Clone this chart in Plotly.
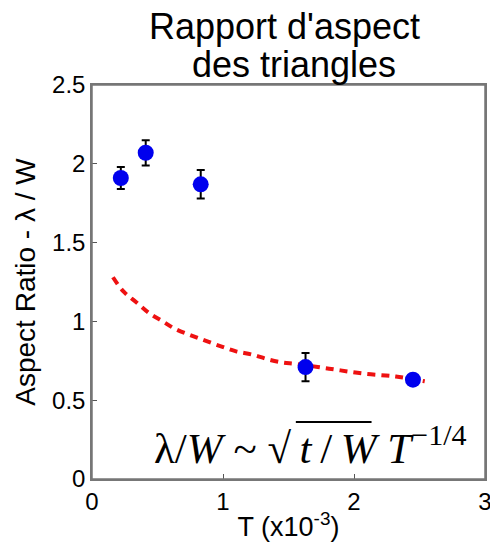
import plotly.graph_objects as go

# Measured points
T_vals = [0.22, 0.41, 0.83, 1.63, 2.45]
ar_vals = [1.91, 2.07, 1.87, 0.71, 0.63]
ar_err = [0.07, 0.08, 0.09, 0.09, 0.02]

# Fitted scaling curve
fit_T = [0.16, 0.24, 0.34, 0.44, 0.54, 0.64, 0.76, 0.87, 0.99, 1.10, 1.22,
         1.34, 1.45, 1.56, 1.81, 2.06, 2.32, 2.54]
fit_y = [1.28, 1.19, 1.12, 1.05, 1.00, 0.95, 0.91, 0.876, 0.84, 0.81, 0.79,
         0.76, 0.74, 0.73, 0.70, 0.67, 0.65, 0.62]

x_ticks = [0, 1, 2, 3]
y_ticks = [0, 0.5, 1, 1.5, 2, 2.5]
y_ticklabels = ["0", "0.5", "1", "1.5", "2", "2.5"]

fig = go.Figure()
fig.add_trace(go.Scatter(
    x=fit_T, y=fit_y, mode="lines", line_shape="spline",
    line=dict(color="#ee1111", width=4, dash="8px,6px"),
    showlegend=False, hoverinfo="skip"))
fig.add_trace(go.Scatter(
    x=T_vals, y=ar_vals, mode="markers",
    marker=dict(color="#0000ee", size=16, symbol="circle"),
    error_y=dict(type="data", array=ar_err, color="black", thickness=2, width=4),
    showlegend=False))

# title as two centred lines
fig.add_annotation(x=0.491, y=1, xref="paper", yref="paper", yshift=59,
                   xanchor="center", yanchor="middle", showarrow=False,
                   text="Rapport d'aspect",
                   font=dict(family="Liberation Sans", size=36, color="black"))
fig.add_annotation(x=0.513, y=1, xref="paper", yref="paper", yshift=21,
                   xanchor="center", yanchor="middle", showarrow=False,
                   text="des triangles",
                   font=dict(family="Liberation Sans", size=36, color="black"))

NB = "\u00a0"
TH = "\u2009"
fig.add_annotation(
    x=0.456, y=0.03, xref="x", yref="y", xanchor="left", yanchor="bottom",
    text=("λ/<i>W</i>" + NB + "~" + NB + "√" + TH +
          "<i>t</i>" + TH + "/" + TH + "<i>W</i>" + NB + "<i>T</i>" +
          "<sup>−1/4</sup>"),
    showarrow=False,
    font=dict(family="Liberation Serif", size=43, color="black"))

# overline of the square root
fig.add_shape(type="line", xref="x", yref="y",
              x0=1.556, x1=2.134, y0=0.362, y1=0.362,
              line=dict(color="black", width=2))

# axes box
fig.add_shape(type="rect", xref="paper", yref="paper", x0=0, x1=1, y0=0, y1=1,
              line=dict(color="#777", width=1.5), layer="above")

fig.update_layout(
    width=490, height=552,
    margin=dict(l=92, r=5, t=85, b=73),
    paper_bgcolor="white", plot_bgcolor="white",
    font=dict(family="Liberation Sans", color="black"),
    xaxis=dict(range=[0, 3], tickvals=x_ticks, ticks="inside", ticklen=5,
               tickcolor="#555", showline=True, linecolor="#777", linewidth=1.5,
               mirror=True, showgrid=False, zeroline=False, automargin=False,
               ticklabeloverflow="allow",
               tickfont=dict(size=24),
               title=dict(text="T (x10<sup>-3</sup>)", font=dict(size=27),
                          standoff=4)),
    yaxis=dict(range=[0, 2.5], tickvals=y_ticks, ticktext=y_ticklabels,
               ticks="inside", ticklen=5, tickcolor="#555",
               showline=True, linecolor="#777", linewidth=1.5,
               mirror=True, showgrid=False, zeroline=False, automargin=False,
               tickfont=dict(size=24),
               title=dict(text="Aspect Ratio - λ / W", font=dict(size=28),
                          standoff=8)),
)

fig.write_html("out.html", config={"displayModeBar": False},
               post_script="document.body.style.margin='0';"
                           "document.body.style.overflow='hidden';")
